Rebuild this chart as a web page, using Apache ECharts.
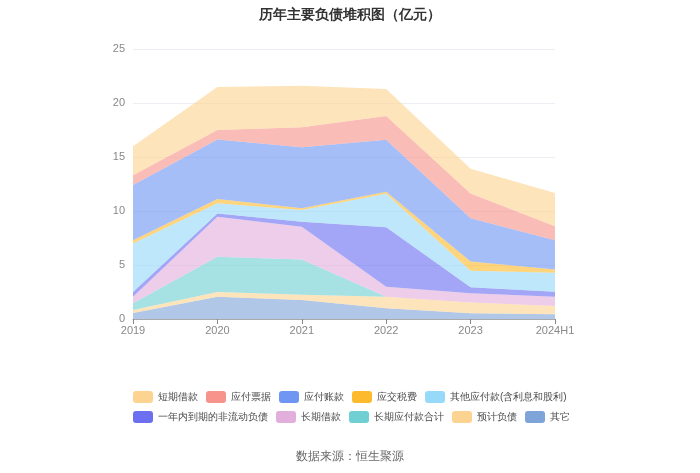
<!DOCTYPE html>
<html>
<head>
<meta charset="utf-8">
<script src="https://cdn.jsdelivr.net/npm/echarts@6/dist/echarts.min.js"></script>
<style>
  html, body { margin: 0; padding: 0; background: #fff; }
  #main { width: 700px; height: 473px; }
</style>
</head>
<body>
<div id="main"></div>
<script>
  // 年份
  var years = ['2019', '2020', '2021', '2022', '2023', '2024H1']

  // 各项负债（亿元），从下往上堆叠
  var qita = [0.55, 2.05, 1.75, 1.0, 0.53, 0.43]
  var yujiFuzhai = [0.28, 0.45, 0.5, 1.06, 1.0, 0.77]
  var changqiYingfu = [0.62, 3.27, 3.27, 0, 0, 0]
  var changqiJiekuan = [0.6, 3.7, 3.03, 0.93, 0.85, 0.86]
  var yinianNei = [0.45, 0.3, 0.45, 5.5, 0.55, 0.47]
  var qitaYingfu = [4.5, 0.95, 1.1, 3.1, 1.54, 1.76]
  var yingjiaoShuifei = [0.3, 0.4, 0.15, 0.2, 0.85, 0.3]
  var yingfuZhangkuan = [5.1, 5.5, 5.65, 4.8, 4.0, 2.7]
  var yingfuPiaoju = [0.9, 0.87, 1.85, 2.2, 2.3, 1.3]
  var duanqiJiekuan = [2.7, 4.0, 3.85, 2.5, 2.3, 3.08]

  var legendNames = ['短期借款', '应付票据', '应付账款', '应交税费', '其他应付款(含利息和股利)',
    '一年内到期的非流动负债', '长期借款', '长期应付款合计', '预计负债', '其它']

  // 堆叠顺序：其它在最下面
  var stackList = [
    {name: '其它', data: qita, color: '#7fa4da'},
    {name: '预计负债', data: yujiFuzhai, color: '#fdd391'},
    {name: '长期应付款合计', data: changqiYingfu, color: '#6fcfd2'},
    {name: '长期借款', data: changqiJiekuan, color: '#e2aedb'},
    {name: '一年内到期的非流动负债', data: yinianNei, color: '#6b6ff0'},
    {name: '其他应付款(含利息和股利)', data: qitaYingfu, color: '#97d9f9'},
    {name: '应交税费', data: yingjiaoShuifei, color: '#fdba2c'},
    {name: '应付账款', data: yingfuZhangkuan, color: '#7096f4'},
    {name: '应付票据', data: yingfuPiaoju, color: '#f7938b'},
    {name: '短期借款', data: duanqiJiekuan, color: '#fdd392'}
  ]

  var series = []
  for (var i = 0; i < stackList.length; i++) {
    series.push({
      name: stackList[i].name,
      type: 'line',
      stack: 'total',
      symbol: 'none',
      data: stackList[i].data,
      itemStyle: {color: stackList[i].color},
      lineStyle: {width: 0},
      areaStyle: {color: stackList[i].color, opacity: 0.62}
    })
  }

  var chart = echarts.init(document.getElementById('main'))
  chart.setOption({
    animation: false,
    title: [
      {
        text: '历年主要负债堆积图（亿元）',
        left: 'center',
        top: 3,
        textStyle: {fontSize: 14, fontWeight: 'bold', color: '#333'}
      },
      {
        text: '数据来源：恒生聚源',
        left: 'center',
        top: 446,
        textStyle: {fontSize: 12, fontWeight: 'normal', color: '#666'}
      }
    ],
    grid: {left: 133, right: 145, top: 49, bottom: 154},
    legend: {
      data: legendNames,
      left: 128,
      top: 386,
      width: 460,
      icon: 'roundRect',
      itemWidth: 20,
      itemHeight: 12,
      itemGap: 8,
      textStyle: {fontSize: 10, color: '#4a4a4a'}
    },
    xAxis: {
      type: 'category',
      boundaryGap: false,
      data: years,
      axisLine: {lineStyle: {color: '#aaa'}},
      axisTick: {show: true, lineStyle: {color: '#888'}},
      axisLabel: {fontSize: 11, color: '#888', margin: 6}
    },
    yAxis: {
      type: 'value',
      min: 0,
      max: 25,
      interval: 5,
      axisLine: {show: false},
      axisTick: {show: false},
      axisLabel: {fontSize: 11, color: '#888', margin: 8},
      splitLine: {lineStyle: {color: '#eceef3'}}
    },
    series: series
  })
</script>
</body>
</html>
